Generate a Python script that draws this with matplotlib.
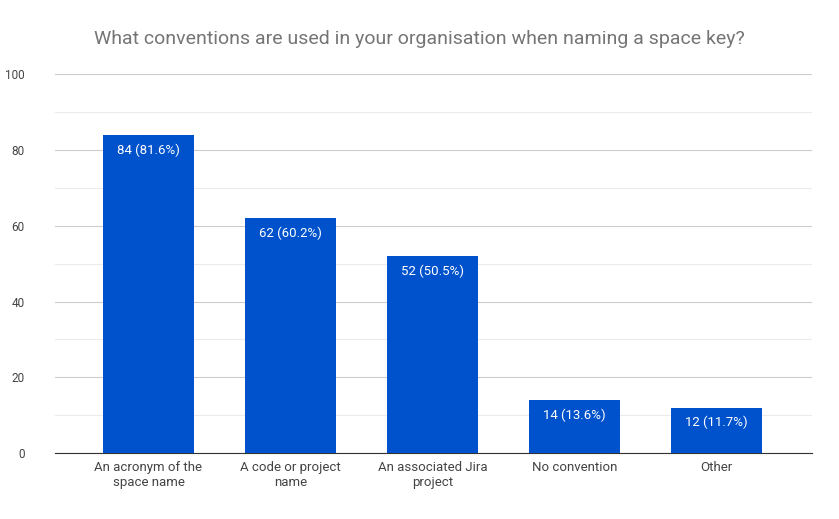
import matplotlib
matplotlib.use("Agg")
import matplotlib.pyplot as plt
import numpy as np

categories = ["An acronym of the\nspace name", "A code or project\nname", "An associated Jira\nproject", "No convention", "Other"]
counts = [84, 62, 52, 14, 12]
labels = ["84 (81.6%)", "62 (60.2%)", "52 (50.5%)", "14 (13.6%)", "12 (11.7%)"]

plt.rcParams['font.family'] = ['Roboto', 'DejaVu Sans']

fig = plt.figure(figsize=(8.39, 5.19), dpi=100)
ax = fig.add_axes([0.0656, 0.127, 0.902, 0.730])

x = np.arange(len(categories))
bars = ax.bar(x, counts, width=0.64, color="#0052CC", zorder=3)
for b, lab in zip(bars, labels):
    ax.text(b.get_x() + b.get_width() / 2, b.get_height() - 2.2, lab,
            ha="center", va="top", color="white", fontsize=9.5, zorder=4)

ax.set_xlim(-0.658, 4.673)
ax.set_ylim(0, 100)
ax.set_yticks(range(0, 101, 20))
ax.set_yticks(range(10, 100, 20), minor=True)
ax.tick_params(axis="y", which="both", length=0, labelsize=8.5, colors="#444444", pad=22)
ax.tick_params(axis="x", length=0, labelsize=9.5, colors="#444444", pad=6)
ax.set_xticks(x)
ax.set_xticklabels(categories)
for lab in ax.get_yticklabels():
    lab.set_horizontalalignment("right")
ax.grid(axis="y", which="major", color="#cccccc", linewidth=0.8, zorder=0)
ax.grid(axis="y", which="minor", color="#ebebeb", linewidth=0.8, zorder=0)
for s in ["top", "right", "left"]:
    ax.spines[s].set_visible(False)
ax.spines["bottom"].set_color("#333333")

fig.text(0.5, 0.925, "What conventions are used in your organisation when naming a space key?",
         ha="center", va="center", fontsize=14, color="#757575")

fig.savefig("out.png", dpi=100, facecolor="white")
